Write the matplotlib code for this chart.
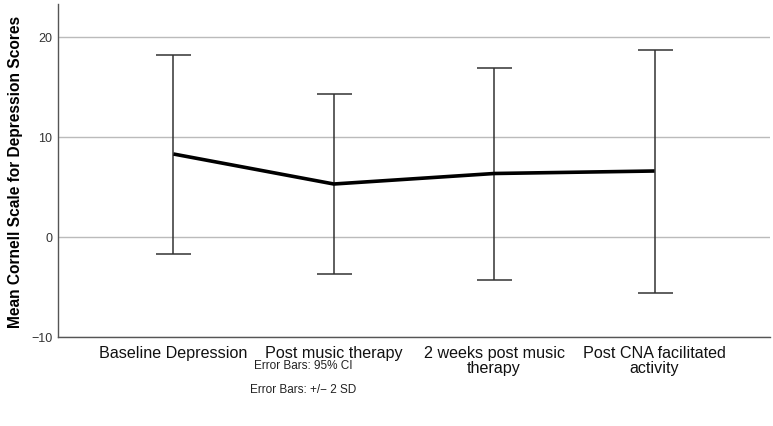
import matplotlib
matplotlib.use("Agg")
import matplotlib.pyplot as plt
import numpy as np

categories = ["Baseline Depression", "Post music therapy", "2 weeks post music\ntherapy", "Post CNA facilitated\nactivity"]
means = [8.3, 5.3, 6.35, 6.6]
upper = [18.2, 14.3, 16.9, 18.7]
lower = [-1.7, -3.7, -4.3, -5.6]
yticks = [-10, 0, 10, 20]

plt.rcParams['font.family'] = ['Liberation Sans', 'DejaVu Sans']

W, H = 773, 427
fig = plt.figure(figsize=(W/100, H/100), dpi=100)
ax = fig.add_axes([58/W, 1-338/H, (770-58)/W, (338-5)/H])

x = np.arange(len(categories))
means_a = np.array(means)
yerr = np.vstack([means_a - np.array(lower), np.array(upper) - means_a])

ax.errorbar(x, means_a, yerr=yerr, fmt='none', ecolor='#333333', elinewidth=1.1,
            capsize=12.6, capthick=1.1, zorder=3)
ax.plot(x, means_a, color='black', lw=2.6, solid_capstyle='butt', zorder=4)

ax.set_xlim(-0.72, 3.72)
ax.set_ylim(-10, 23.3)
ax.set_yticks(yticks)
ax.set_xticks(x)
ax.set_xticklabels(categories, fontsize=11.6, color='#111111', linespacing=1.0)
ax.tick_params(axis='x', length=0, pad=6)
ax.tick_params(axis='y', length=0, pad=4, labelsize=9, labelcolor='#333333')
ax.grid(axis='y', color='#bbbbbb', lw=1.0, zorder=0)
ax.set_axisbelow(True)
for s in ['top', 'right']:
    ax.spines[s].set_visible(False)
for s in ['left', 'bottom']:
    ax.spines[s].set_color('#555555')
    ax.spines[s].set_linewidth(1.0)

ax.set_ylabel("Mean Cornell Scale for Depression Scores", fontsize=11.2, fontweight='bold')
ax.yaxis.set_label_coords(-0.049, 0.5)

fig.text(303/W, 1-366/H, "Error Bars: 95% CI", ha='center', va='center', fontsize=8.5, color='#222222')
fig.text(303/W, 1-390/H, "Error Bars: +/\u2212 2 SD", ha='center', va='center', fontsize=8.5, color='#222222')

fig.savefig("out.png", dpi=100)
